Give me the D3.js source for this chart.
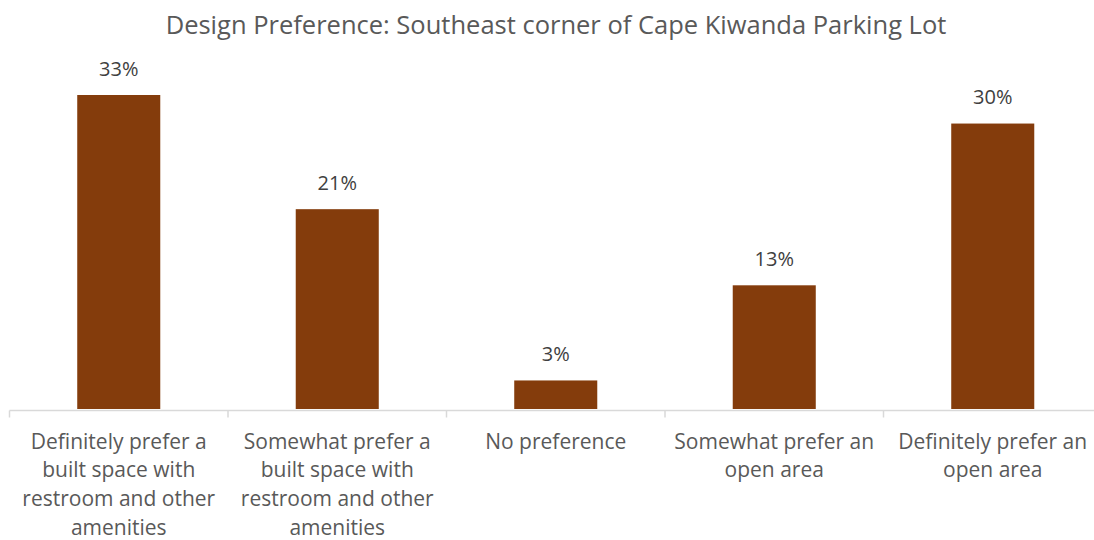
<!DOCTYPE html>
<html>
<head>
<meta charset="utf-8">
<script src="https://cdn.jsdelivr.net/npm/d3@7"></script>
<style>
  html, body { margin: 0; padding: 0; background: #fff; }
  svg { display: block; font-family: "Open Sans", "Noto Sans", sans-serif; }
</style>
</head>
<body>
<svg id="chart" width="1094" height="540"></svg>
<script>
// Survey responses: design preference for the southeast corner
const categories = [
  ["Definitely prefer a", "built space with", "restroom and other", "amenities"],
  ["Somewhat prefer a", "built space with", "restroom and other", "amenities"],
  ["No preference"],
  ["Somewhat prefer an", "open area"],
  ["Definitely prefer an", "open area"]
];
const shares = [33, 21, 3, 13, 30];
const title = "Design Preference: Southeast corner of Cape Kiwanda Parking Lot";

const svg = d3.select("#chart");
const plot = { left: 9.5, right: 1102, top: 95, bottom: 409 };

const x = d3.scaleBand()
  .domain(d3.range(shares.length))
  .range([plot.left, plot.right])
  .paddingInner(0.62)
  .paddingOuter(0.31);

const y = d3.scaleLinear()
  .domain([0, 33])
  .range([plot.bottom, plot.top]);

// Chart title
svg.append("text")
  .attr("x", 556)
  .attr("y", 34)
  .attr("text-anchor", "middle")
  .attr("fill", "#595959")
  .style("font-size", "25.5px")
  .text(title);

// Bars
svg.append("g")
  .selectAll("rect")
  .data(shares)
  .join("rect")
  .attr("x", (d, i) => x(i))
  .attr("width", x.bandwidth())
  .attr("y", d => y(d))
  .attr("height", d => y(0) - y(d))
  .attr("fill", "#843C0C");

// Value labels
svg.append("g")
  .selectAll("text")
  .data(shares)
  .join("text")
  .attr("x", (d, i) => x(i) + x.bandwidth() / 2)
  .attr("y", d => y(d) - 19.5)
  .attr("text-anchor", "middle")
  .attr("fill", "#404040")
  .style("font-size", "20px")
  .text(d => d + "%");

// Category axis with tick marks between groups
const axisY = 410.5;
const step = x.step();
const edges = d3.range(shares.length + 1).map(i => plot.left + i * step);
const axis = svg.append("g");
axis.append("line")
  .attr("x1", plot.left).attr("x2", plot.right)
  .attr("y1", axisY).attr("y2", axisY)
  .attr("stroke", "#D9D9D9").attr("stroke-width", 1.5);
axis.selectAll("line.tick")
  .data(edges)
  .join("line")
  .attr("class", "tick")
  .attr("x1", d => d).attr("x2", d => d)
  .attr("y1", axisY).attr("y2", axisY + 7)
  .attr("stroke", "#D9D9D9").attr("stroke-width", 1.5);

const labels = axis.selectAll("text.cat")
  .data(categories)
  .join("text")
  .attr("class", "cat")
  .attr("x", (d, i) => x(i) + x.bandwidth() / 2)
  .attr("y", 448.5)
  .attr("text-anchor", "middle")
  .attr("fill", "#595959")
  .style("font-size", "21px");
labels.selectAll("tspan")
  .data(d => d)
  .join("tspan")
  .attr("x", function () { return this.parentNode.getAttribute("x"); })
  .attr("dy", (d, i) => i === 0 ? 0 : 28.7)
  .text(d => d);
</script>
</body>
</html>
